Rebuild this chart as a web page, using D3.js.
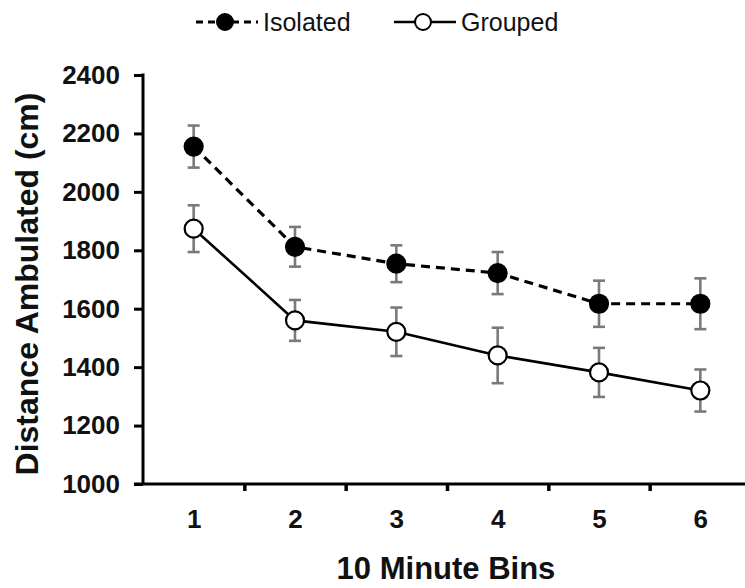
<!DOCTYPE html>
<html>
<head>
<meta charset="utf-8">
<script src="https://cdn.jsdelivr.net/npm/d3@7"></script>
<style>
  body { margin: 0; background: #fff; }
  svg { display: block; font-family: "Liberation Sans", Arial, sans-serif; }
</style>
</head>
<body>
<svg id="chart" width="745" height="588"></svg>
<script>
//data
var bins = [1, 2, 3, 4, 5, 6];
var isolatedMean = [2155, 1812, 1754, 1722, 1617, 1617];
var isolatedErr = [72, 68, 63, 72, 79, 87];
var groupedMean = [1874, 1560, 1521, 1440, 1382, 1320];
var groupedErr = [80, 70, 83, 95, 84, 72];
var yTicks = [1000, 1200, 1400, 1600, 1800, 2000, 2200, 2400];

(function(){
	var svg = d3.select("#chart");

	var x = d3.scaleLinear().domain([0.5, 6.5]).range([143, 751]);
	var y = d3.scaleLinear().domain([1000, 2400]).range([484, 75]);

	var series = [
		{name: "Isolated", mean: isolatedMean, err: isolatedErr, fill: "#000", dash: "9,6", width: 3.2},
		{name: "Grouped", mean: groupedMean, err: groupedErr, fill: "#fff", dash: null, width: 2.6}
	];

	//y axis
	var gy = svg.append("g").attr("transform", "translate(143,0)")
		.call(d3.axisLeft(y).tickValues(yTicks).tickSize(9).tickPadding(14).tickFormat(d3.format("d")));
	gy.select(".domain").remove();
	gy.selectAll(".tick line").attr("stroke", "#000").attr("stroke-width", 3);
	gy.selectAll(".tick text").attr("font-size", 26).attr("font-weight", "bold").attr("fill", "#111");
	svg.append("line").attr("x1", 143).attr("x2", 143).attr("y1", y(2400) - 1.5).attr("y2", y(1000))
		.attr("stroke", "#000").attr("stroke-width", 3);

	//x axis: ticks between bins, labels under the bins
	var gx = svg.append("g").attr("transform", "translate(0,484)")
		.call(d3.axisBottom(x).tickValues([1.5, 2.5, 3.5, 4.5, 5.5]).tickSize(7).tickFormat(""));
	gx.select(".domain").remove();
	gx.selectAll(".tick line").attr("stroke", "#000").attr("stroke-width", 3.5);
	svg.append("line").attr("x1", 134).attr("x2", 745).attr("y1", 484).attr("y2", 484)
		.attr("stroke", "#000").attr("stroke-width", 3);

	var gl = svg.append("g").attr("transform", "translate(0,484)")
		.call(d3.axisBottom(x).tickValues(bins).tickSize(0).tickPadding(26).tickFormat(d3.format("d")));
	gl.select(".domain").remove();
	gl.selectAll(".tick text").attr("font-size", 26).attr("font-weight", "bold").attr("fill", "#111");

	//axis titles
	svg.append("text").attr("x", 446).attr("y", 579).attr("text-anchor", "middle")
		.attr("font-size", 31).attr("font-weight", "bold").attr("fill", "#111").text("10 Minute Bins");
	svg.append("text").attr("transform", "translate(38,284) rotate(-90)").attr("text-anchor", "middle")
		.attr("font-size", 32).attr("font-weight", "bold").attr("fill", "#111").text("Distance Ambulated (cm)");

	var line = d3.line().x(function(d){return x(d.bin)}).y(function(d){return y(d.v)});

	series.forEach(function(s){
		var pts = bins.map(function(b, i){return {bin: b, v: s.mean[i], e: s.err[i]}});
		var g = svg.append("g");

		//error bars
		var eb = g.selectAll("g.eb").data(pts).enter().append("g").attr("class", "eb")
			.attr("stroke", "#7a7a7a").attr("stroke-width", 2.6);
		eb.append("line").attr("x1", function(d){return x(d.bin)}).attr("x2", function(d){return x(d.bin)})
			.attr("y1", function(d){return y(d.v + d.e)}).attr("y2", function(d){return y(d.v - d.e)});
		eb.append("line").attr("x1", function(d){return x(d.bin) - 6}).attr("x2", function(d){return x(d.bin) + 6})
			.attr("y1", function(d){return y(d.v + d.e)}).attr("y2", function(d){return y(d.v + d.e)});
		eb.append("line").attr("x1", function(d){return x(d.bin) - 6}).attr("x2", function(d){return x(d.bin) + 6})
			.attr("y1", function(d){return y(d.v - d.e)}).attr("y2", function(d){return y(d.v - d.e)});

		g.append("path").datum(pts).attr("d", line).attr("fill", "none")
			.attr("stroke", "#000").attr("stroke-width", s.width).attr("stroke-dasharray", s.dash);

		g.selectAll("circle").data(pts).enter().append("circle")
			.attr("cx", function(d){return x(d.bin)}).attr("cy", function(d){return y(d.v)})
			.attr("r", 9).attr("fill", s.fill).attr("stroke", "#000").attr("stroke-width", 2.2);
	});

	//legend
	var legend = [
		{name: "Isolated", x1: 196, x2: 258, fill: "#000", dash: "7,5", width: 3},
		{name: "Grouped", x1: 394, x2: 456, fill: "#fff", dash: null, width: 2.6}
	];
	var lg = svg.append("g").selectAll("g").data(legend).enter().append("g");
	lg.append("line").attr("x1", function(d){return d.x1}).attr("x2", function(d){return d.x2})
		.attr("y1", 22).attr("y2", 22).attr("stroke", "#000")
		.attr("stroke-width", function(d){return d.width}).attr("stroke-dasharray", function(d){return d.dash});
	lg.append("circle").attr("cx", function(d){return (d.x1 + d.x2) / 2 - 2}).attr("cy", 22).attr("r", 8)
		.attr("fill", function(d){return d.fill}).attr("stroke", "#000").attr("stroke-width", 2);
	lg.append("text").attr("x", function(d){return d.x2 + 5}).attr("y", 31)
		.attr("font-size", 25).attr("fill", "#111").text(function(d){return d.name});
})();
</script>
</body>
</html>
